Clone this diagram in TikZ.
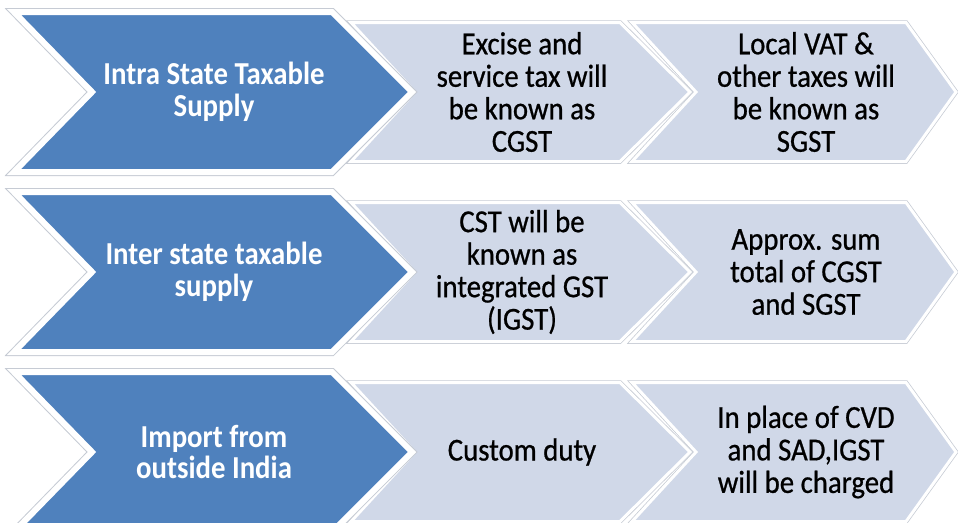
\documentclass[tikz,border=0pt]{standalone}
\usepackage{fontspec}
\setmainfont{Carlito}[FakeStretch=0.9]
\newfontfamily\partfont{Carlito}[FakeStretch=0.9,FakeBold=0.7]
\usepackage{tikz}
\usetikzlibrary{positioning}

\definecolor{keyblue}{RGB}{79,129,189}
\definecolor{partblue}{RGB}{208,216,232}
\definecolor{edgegray}{RGB}{198,203,212}

\begin{document}
\begin{tikzpicture}[x=1pt,y=-1pt]
            \tikzstyle{key}=[fill=keyblue,draw=white,line width=6pt,preaction={draw=edgegray,line width=8pt}]   % blue chevron
            \tikzstyle{part}=[fill=partblue,draw=white,line width=3pt,preaction={draw=edgegray,line width=4.5pt}] % light chevron
            \tikzstyle{keytext}=[text=white,font=\bfseries\fontsize{32}{31.5}\selectfont,align=center]
            \tikzstyle{parttext}=[text=black,font=\partfont\fontsize{32}{32.5}\selectfont,align=center]

            \useasboundingbox (0,0) rectangle (958,522);

            % row 1
            \path[part] (632,22.5) -- (906,22.5) -- (956,92) -- (906,161.5) -- (632,161.5) -- (696,92) -- cycle;
            \path[part] (351,22.5) -- (620,22.5) -- (690,92) -- (620,161.5) -- (351,161.5) -- (415,92) -- cycle;
            \path[key]  (14,12) -- (332,12) -- (412,92) -- (332,172) -- (14,172) -- (92,92) -- cycle;

            % row 2
            \path[part] (632,202.5) -- (906,202.5) -- (956,272) -- (906,341.5) -- (632,341.5) -- (696,272) -- cycle;
            \path[part] (351,202.5) -- (620,202.5) -- (690,272) -- (620,341.5) -- (351,341.5) -- (415,272) -- cycle;
            \path[key]  (14,192) -- (332,192) -- (412,272) -- (332,352) -- (14,352) -- (92,272) -- cycle;

            % row 3
            \path[part] (632,382.5) -- (906,382.5) -- (956,452) -- (906,521.5) -- (632,521.5) -- (696,452) -- cycle;
            \path[part] (351,382.5) -- (620,382.5) -- (690,452) -- (620,521.5) -- (351,521.5) -- (415,452) -- cycle;
            \path[key]  (14,372) -- (332,372) -- (412,452) -- (332,532) -- (14,532) -- (92,452) -- cycle;

            \node[keytext]  (k1) at (214, 92) {Intra State Taxable\\Supply};
            \node[parttext] (c1) at (522, 92) {Excise and\\service tax will\\be known as\\CGST};
            \node[parttext] (s1) at (806, 92) {Local VAT \&\\other taxes will\\be known as\\SGST};

            \node[keytext]  (k2) at (214,272) {Inter state taxable\\supply};
            \node[parttext] (c2) at (522,272) {CST will be\\known as\\integrated GST\\(IGST)};
            \node[parttext] (s2) at (806,272) {Approx. sum\\total of CGST\\and SGST};

            \node[keytext]  (k3) at (214,452) {Import from\\outside India};
            \node[parttext] (c3) at (522,452) {Custom duty};
            \node[parttext] (s3) at (806,452) {In place of CVD\\and SAD,IGST\\will be charged};
        \end{tikzpicture}
\end{document}
